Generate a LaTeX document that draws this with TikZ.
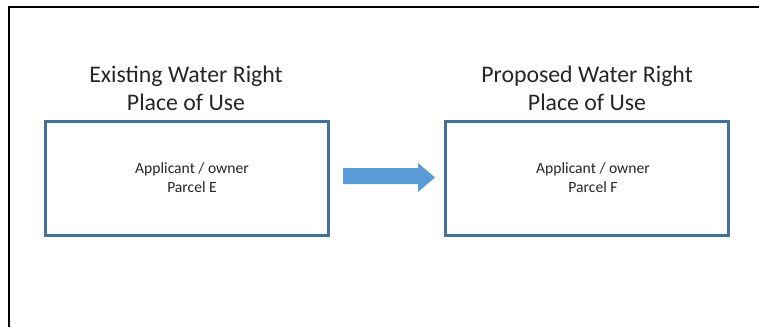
\documentclass[tikz,border=0pt]{standalone}
\usepackage{fontspec}
\setmainfont{Carlito}
\definecolor{boxline}{RGB}{65,113,156}
\definecolor{arrowfill}{RGB}{91,155,213}
\definecolor{txt}{RGB}{38,38,38}
\begin{document}
\begin{tikzpicture}[x=1pt,y=-1pt,
  placebox/.style={draw=boxline,line width=3pt,fill=white},
  title/.style={font=\fontsize{23.8}{28}\selectfont,text=txt,align=center,anchor=base},
  boxtext/.style={font=\fontsize{15.6}{19}\selectfont,text=txt,align=center,anchor=base}]
\useasboundingbox (0,0) rectangle (759,327);
% frame: top and left edges only
\draw[line width=2pt] (759,7) -- (9,7) -- (9,327);
% place-of-use boxes
\draw[placebox] (45.5,121) rectangle (328.5,235);
\draw[placebox] (445.5,121) rectangle (728.5,235);
% headings (base anchor sits on the last line)
\node[title] (h1) at (186,110) {Existing Water Right\\Place of Use};
\node[title] (h2) at (587,110) {Proposed Water Right\\Place of Use};
% box contents
\node[boxtext] (t1) at (192,192) {Applicant / owner\\Parcel E};
\node[boxtext] (t2) at (593,192) {Applicant / owner\\Parcel F};
% transfer arrow
\fill[arrowfill] (343,168) -- (418,168) -- (418,163) -- (435,177.5) -- (418,192) -- (418,184) -- (343,184) -- cycle;
\end{tikzpicture}
\end{document}
